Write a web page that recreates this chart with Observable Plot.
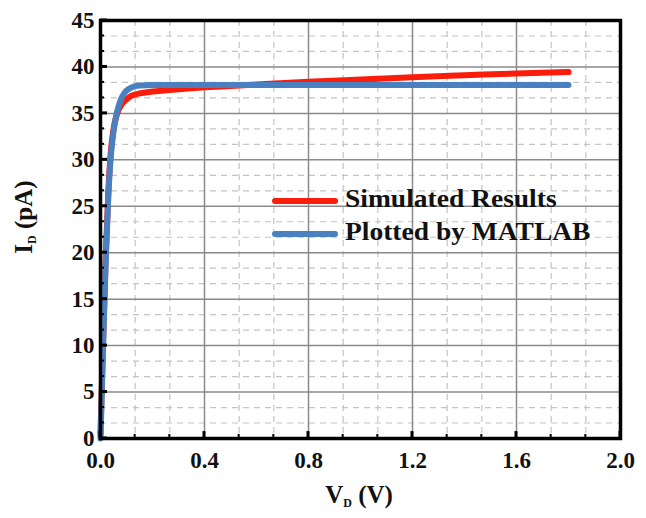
<!DOCTYPE html>
<html>
<head>
<meta charset="utf-8">
<script src="https://cdn.jsdelivr.net/npm/d3@7"></script>
<script src="https://cdn.jsdelivr.net/npm/@observablehq/plot@0.6"></script>
<style>
  body { margin:0; background:white; }
  #wrap { position:relative; width:646px; height:518px; }
  .leg { position:absolute; font-family:"Liberation Serif", "Times New Roman", serif; font-weight:bold; font-size:25px; color:#111; white-space:nowrap; transform:scaleX(1.1); transform-origin:left center; }
  .sw { position:absolute; height:6px; border-radius:3px; }
</style>
</head>
<body>
<div id="wrap"></div>
<script>
// ---- data ----
const simV = [0, 0.005, 0.01, 0.02, 0.03, 0.04, 0.05, 0.06, 0.07, 0.08, 0.10, 0.12, 0.15, 0.2, 0.3, 0.4, 0.5, 0.6, 0.8, 1.0, 1.2, 1.4, 1.6, 1.8];
const simI = [0.5, 5.5, 10.5, 19.5, 26.5, 31, 33.3, 34.6, 35.4, 35.9, 36.5, 36.9, 37.15, 37.35, 37.6, 37.8, 37.95, 38.1, 38.4, 38.65, 38.9, 39.1, 39.3, 39.45];
const matV = [0, 0.005, 0.01, 0.02, 0.03, 0.04, 0.05, 0.06, 0.07, 0.08, 0.09, 0.10, 0.12, 0.15, 0.2, 0.6, 1.0, 1.4, 1.8];
const matI = [0, 5, 10, 19, 26, 30.5, 33, 34.7, 35.8, 36.6, 37.1, 37.45, 37.8, 38.0, 38.05, 38.05, 38.05, 38.05, 38.05];
const xMajor = [0, 0.4, 0.8, 1.2, 1.6, 2.0];
const yMajor = [0, 5, 10, 15, 20, 25, 30, 35, 40, 45];
const xMinor = d3.range(0, 15).map(i => i * 0.4 / 3).filter((v, i) => i % 3 !== 0 && v < 2);
const yMinor = d3.range(0, 27).map(i => i * 5 / 3).filter((v, i) => i % 3 !== 0 && v < 45);
const seriesNames = ["Simulated Results", "Plotted by MATLAB"];
const seriesColors = ["#fb1d0c", "#4a7fc0"];

const sim = simV.map((v, i) => ({V: v, I: simI[i]}));
const mat = matV.map((v, i) => ({V: v, I: matI[i]}));

const font = '"Liberation Serif", "Times New Roman", serif';

const chart = Plot.plot({
  width: 646, height: 518,
  marginLeft: 100, marginRight: 26, marginTop: 20, marginBottom: 80,
  style: {fontFamily: font, fontWeight: "bold", fontSize: "23px", background: "white", color: "#111"},
  x: {domain: [0, 2], label: null},
  y: {domain: [0, 45], label: null},
  marks: [
    Plot.gridX(xMinor, {stroke: "#c4c4c4", strokeOpacity: 1, strokeDasharray: "6,5", strokeWidth: 1.2}),
    Plot.gridY(yMinor, {stroke: "#c4c4c4", strokeOpacity: 1, strokeDasharray: "6,5", strokeWidth: 1.2}),
    Plot.gridX(xMajor, {stroke: "#8a8a8a", strokeOpacity: 1, strokeWidth: 1.5}),
    Plot.gridY(yMajor, {stroke: "#8a8a8a", strokeOpacity: 1, strokeWidth: 1.5}),
    Plot.line(sim, {x: "V", y: "I", stroke: seriesColors[0], strokeWidth: 6, curve: "monotone-x"}),
    Plot.line(mat, {x: "V", y: "I", stroke: seriesColors[1], strokeWidth: 6, curve: "monotone-x"}),
    Plot.axisX(xMajor, {tickSize: 0, tickPadding: 13, tickFormat: d => d.toFixed(1), fontSize: 23}),
    Plot.axisY(yMajor, {tickSize: 0, tickPadding: 6, fontSize: 23}),
    Plot.frame({stroke: "black", strokeWidth: 3.5})
  ]
});

document.getElementById("wrap").appendChild(chart);

// inward ticks via Plot's scales
const sx = chart.scale("x"), sy = chart.scale("y");
const svg = d3.select(chart);
const x0 = sx.range[0], y0 = sy.range[0];
const tg = svg.append("g").attr("stroke", "black");
xMajor.forEach(v => { const px = sx.apply(v); tg.append("line").attr("x1", px).attr("x2", px).attr("y1", y0).attr("y2", y0 - 7).attr("stroke-width", 3); });
xMinor.forEach(v => { const px = sx.apply(v); tg.append("line").attr("x1", px).attr("x2", px).attr("y1", y0).attr("y2", y0 - 4).attr("stroke-width", 2); });
yMajor.forEach(v => { const py = sy.apply(v); tg.append("line").attr("x1", x0).attr("x2", x0 + 7).attr("y1", py).attr("y2", py).attr("stroke-width", 3); });
yMinor.forEach(v => { const py = sy.apply(v); tg.append("line").attr("x1", x0).attr("x2", x0 + 4).attr("y1", py).attr("y2", py).attr("stroke-width", 2); });

// axis titles with subscripts
const xt = svg.append("text").attr("x", 359).attr("y", 503).attr("text-anchor", "middle")
  .attr("font-family", font).attr("font-weight", "bold").attr("font-size", 25).attr("fill", "#111");
xt.append("tspan").text("V");
xt.append("tspan").attr("font-size", 12).attr("dy", 4).text("D");
xt.append("tspan").attr("dy", -4).text(" (V)");

const yt = svg.append("text").attr("transform", "translate(32,217) rotate(-90)").attr("text-anchor", "middle")
  .attr("font-family", font).attr("font-weight", "bold").attr("font-size", 25).attr("fill", "#111");
yt.append("tspan").text("I");
yt.append("tspan").attr("font-size", 12).attr("dy", 4).text("D");
yt.append("tspan").attr("dy", -4).text(" (pA)");

// legend
const wrap = document.getElementById("wrap");
seriesNames.forEach((name, i) => {
  const yc = 201 + i * 33;
  const sw = document.createElement("div");
  sw.className = "sw"; sw.style.left = "272px"; sw.style.width = "66px"; sw.style.top = (yc - 3) + "px"; sw.style.background = seriesColors[i];
  wrap.appendChild(sw);
  const t = document.createElement("div");
  t.className = "leg"; t.textContent = name; t.style.left = "345px"; t.style.top = (yc - 16) + "px";
  wrap.appendChild(t);
});
</script>
</body>
</html>
